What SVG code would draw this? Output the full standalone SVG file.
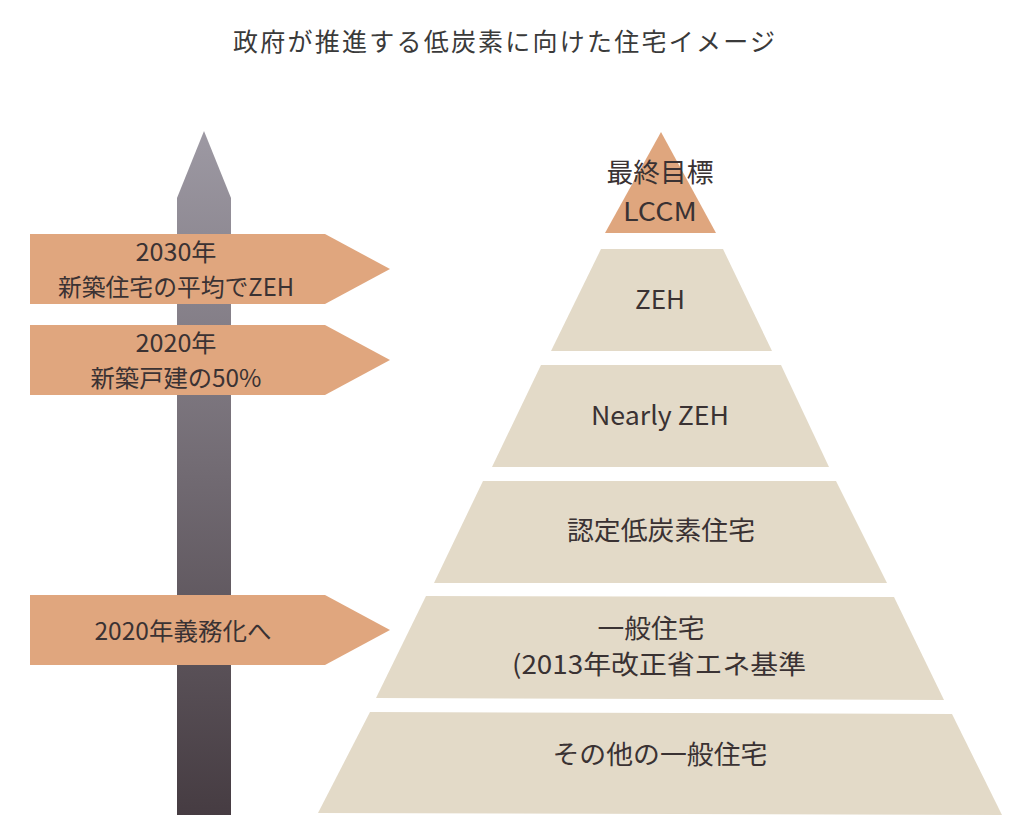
<svg xmlns="http://www.w3.org/2000/svg" width="1024" height="828" viewBox="0 0 1024 828">
<defs>
<linearGradient id="poleGrad" x1="0" y1="0" x2="0" y2="1">
<stop offset="0" stop-color="#9d99a3"/>
<stop offset="1" stop-color="#463c42"/>
</linearGradient>
<style>
text{font-family:"Noto Sans CJK JP","Noto Sans",sans-serif;fill:#3a3233;text-anchor:middle;}
.title{font-size:25px;fill:#3a3a3a;}
.sign{fill:#e0a67e;}
.lvl{fill:#e3dac8;}
.top{fill:#dfa67e;}
.st{font-size:24px;}
.pt{font-size:26px;}
</style>
</defs>
<rect width="1024" height="828" fill="#ffffff"/>
<text class="title" x="504" y="51" textLength="542" lengthAdjust="spacing">政府が推進する低炭素に向けた住宅イメージ</text>

<g id="pole">
<polygon points="204,131 231,198 231,815 177,815 177,198" fill="url(#poleGrad)"/>
</g>

<g id="sign-2030">
<polygon class="sign" points="30,234 325,234 390,269 325,304 30,304"/>
<text class="st" x="176" y="261" textLength="81" lengthAdjust="spacingAndGlyphs">2030年</text>
<text class="st" x="176" y="296" textLength="236" lengthAdjust="spacingAndGlyphs">新築住宅の平均でZEH</text>
</g>
<g id="sign-2020">
<polygon class="sign" points="30,325 325,325 390,360 325,395 30,395"/>
<text class="st" x="176" y="352" textLength="81" lengthAdjust="spacingAndGlyphs">2020年</text>
<text class="st" x="176" y="387" textLength="171" lengthAdjust="spacingAndGlyphs">新築戸建の50%</text>
</g>
<g id="sign-mandate">
<polygon class="sign" points="30,595 325,595 390,630 325,665 30,665"/>
<text class="st" x="183" y="640" textLength="177" lengthAdjust="spacingAndGlyphs">2020年義務化へ</text>
</g>

<g id="level-lccm">
<polygon class="top" points="661,132 716,233 605,233"/>
<text class="pt" x="660" y="182" textLength="107" lengthAdjust="spacingAndGlyphs">最終目標</text>
<text class="pt" x="660" y="221" textLength="74" lengthAdjust="spacingAndGlyphs">LCCM</text>
</g>
<g id="level-zeh">
<polygon class="lvl" points="601,249 723,249 772,351 551,351"/>
<text class="pt" x="660" y="309" textLength="50" lengthAdjust="spacingAndGlyphs">ZEH</text>
</g>
<g id="level-nearly">
<polygon class="lvl" points="541,365 781,365 829,467 492,467"/>
<text class="pt" x="660" y="425" textLength="138" lengthAdjust="spacingAndGlyphs">Nearly ZEH</text>
</g>
<g id="level-certified">
<polygon class="lvl" points="483,481 836,481 887,583 434,583"/>
<text class="pt" x="661" y="540" textLength="188" lengthAdjust="spacingAndGlyphs">認定低炭素住宅</text>
</g>
<g id="level-general">
<polygon class="lvl" points="426,596 894,597 944,700 376,698"/>
<text class="pt" x="651" y="638" textLength="107" lengthAdjust="spacingAndGlyphs">一般住宅</text>
<text class="pt" x="659" y="674" textLength="294" lengthAdjust="spacingAndGlyphs">(2013年改正省エネ基準</text>
</g>
<g id="level-other">
<polygon class="lvl" points="370,712 952,714 1002,815 318,813"/>
<text class="pt" x="660" y="764" textLength="215" lengthAdjust="spacingAndGlyphs">その他の一般住宅</text>
</g>
<g id="connectors"></g>
</svg>
